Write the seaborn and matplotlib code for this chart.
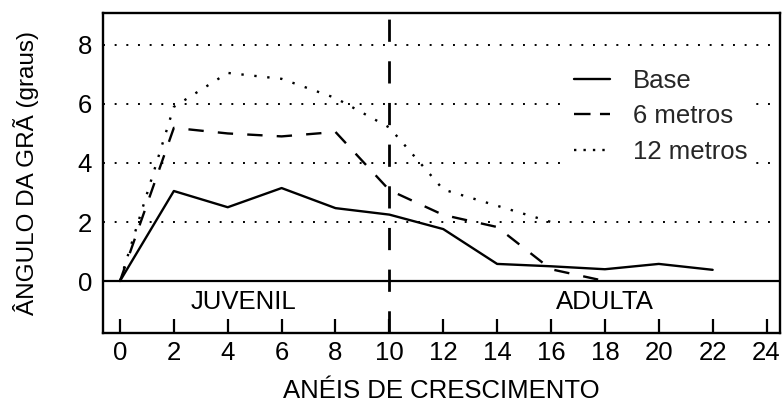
import matplotlib
matplotlib.use("Agg")
import matplotlib.pyplot as plt
import seaborn as sns
import pandas as pd
from matplotlib.lines import Line2D

sns.set_theme(style="white")
plt.rcParams['font.family'] = ['Liberation Sans', 'DejaVu Sans']

# Data
base_x = [0, 2, 4, 6, 8, 10, 12, 14, 16, 18, 20, 22]
base_y = [0, 3.05, 2.5, 3.15, 2.47, 2.25, 1.76, 0.58, 0.5, 0.4, 0.58, 0.38]
m6_x = [0, 2, 4, 6, 8, 10, 12, 14, 16, 18]
m6_y = [0, 5.19, 5.0, 4.9, 5.05, 3.08, 2.24, 1.83, 0.4, 0.0]
m12_x = [0, 2, 4, 6, 8, 10, 12, 14, 16]
m12_y = [0, 5.9, 7.05, 6.85, 6.2, 5.2, 3.1, 2.55, 2.0]
series_labels = ["Base", "6 metros", "12 metros"]
x_ticks = list(range(0, 25, 2))
y_ticks = [0, 2, 4, 6, 8]
phase_labels = ["JUVENIL", "ADULTA"]
phase_x = [4.6, 18]
boundary_x = 10

fig = plt.figure(figsize=(7.82, 4.05), dpi=100)
ax = fig.add_axes([103/782, 1-333/405, (780-103)/782, (333-13)/405])

FS = 18.5
lw = 1.7

# grid lines
for yv in [2, 4, 6, 8]:
    ax.axhline(yv, color="black", lw=1.4, linestyle=(0, (1, 5)), zorder=1)
ax.axhline(0, color="black", lw=1.6, zorder=3)
ax.axvline(boundary_x, color="black", lw=2.0, linestyle=(0, (8, 7)), zorder=3)

df_b = pd.DataFrame({"x": base_x, "y": base_y})
df_6 = pd.DataFrame({"x": m6_x, "y": m6_y})
df_12 = pd.DataFrame({"x": m12_x, "y": m12_y})
sns.lineplot(data=df_b, x="x", y="y", ax=ax, color="black", lw=lw, zorder=4)
sns.lineplot(data=df_6, x="x", y="y", ax=ax, color="black", lw=lw,
             linestyle=(0, (6.5, 6)), zorder=4)
sns.lineplot(data=df_12, x="x", y="y", ax=ax, color="black", lw=lw,
             linestyle=(0, (1, 4.5)), zorder=4)

for t, xv in zip(phase_labels, phase_x):
    ax.text(xv, -0.72, t, ha="center", va="center", fontsize=FS, color="black")

ax.set_xlim(-0.63, 24.5)
ax.set_ylim(-1.76, 9.08)
ax.set_xticks(x_ticks)
ax.set_xticklabels([str(v) for v in x_ticks], fontsize=FS)
ax.set_yticks(y_ticks)
ax.set_yticklabels([str(v) for v in y_ticks], fontsize=FS)
ax.tick_params(axis="x", direction="in", length=10, width=1.6, pad=6, colors="black", bottom=True)
ax.tick_params(axis="y", length=0, pad=8, colors="black")
for s in ax.spines.values():
    s.set_color("black")
    s.set_linewidth(1.7)
ax.set_xlabel("ANÉIS DE CRESCIMENTO", fontsize=FS, color="black", labelpad=10)
ax.set_ylabel("ÂNGULO DA GRÃ (graus)", fontsize=17.5, color="black", labelpad=28)

handles = [
    Line2D([], [], color="black", lw=lw),
    Line2D([], [], color="black", lw=lw, linestyle=(0, (7, 4))),
    Line2D([], [], color="black", lw=lw, linestyle=(0, (1, 3))),
]
leg = ax.legend(handles, series_labels, loc="upper left",
                bbox_to_anchor=(0.665, 0.89), fontsize=FS, frameon=True,
                facecolor="white", edgecolor="none", framealpha=1,
                handlelength=1.4, labelspacing=0.45, borderpad=0.3,
                handletextpad=0.9)
leg.set_zorder(5)

fig.savefig("out.png", dpi=100)
